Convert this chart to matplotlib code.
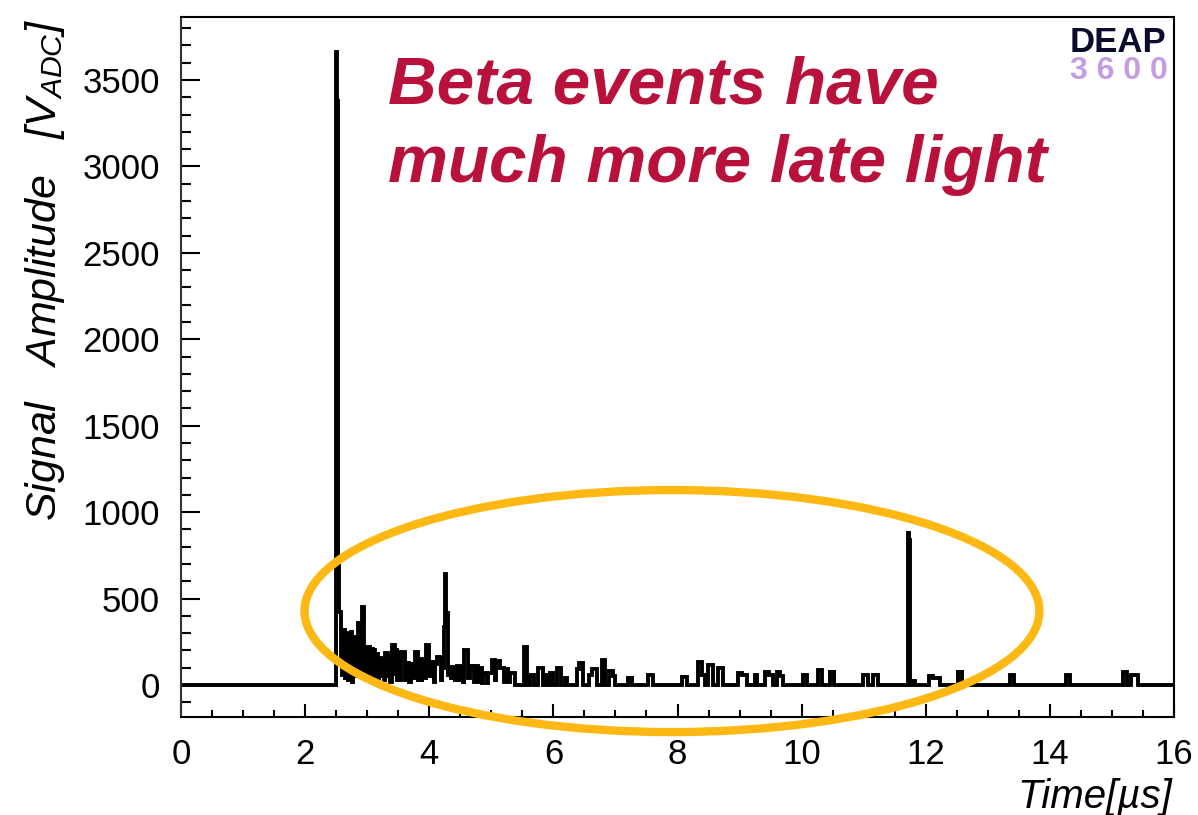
import numpy as np
import matplotlib
matplotlib.use("Agg")
import matplotlib.pyplot as plt
from matplotlib.patches import Ellipse
from matplotlib.ticker import MultipleLocator

plt.rcParams['font.family'] = ['Liberation Sans', 'DejaVu Sans']
plt.rcParams['mathtext.fontset'] = 'custom'
plt.rcParams['mathtext.rm'] = 'Liberation Sans'
plt.rcParams['mathtext.it'] = 'Liberation Sans:italic'

# prompt peak and early tail: contiguous bins (edges in us, amplitude in ADC)
early_edges = [2.50, 2.52, 2.535, 2.55, 2.57, 2.60, 2.615, 2.645, 2.66, 2.69, 2.70,
               2.72, 2.735, 2.76, 2.775, 2.80, 2.815, 2.845, 2.855, 2.875, 2.91,
               2.945, 2.965, 2.99, 3.02, 3.05, 3.06, 3.09, 3.10, 3.13, 3.15,
               3.18, 3.19, 3.23, 3.24, 3.27, 3.29, 3.33, 3.34, 3.37, 3.40,
               3.44, 3.45, 3.48, 3.50, 3.53, 3.54, 3.57, 3.61, 3.63, 3.68, 3.70,
               3.74, 3.77, 3.82, 3.84, 3.88, 3.89, 3.92, 3.94, 3.995, 4.02, 4.07, 4.09,
               4.12, 4.19, 4.20, 4.235, 4.255, 4.275, 4.295, 4.35, 4.37, 4.415, 4.44, 4.49,
               4.51, 4.55, 4.565, 4.63, 4.66, 4.72, 4.74, 4.79, 4.81, 4.845,
               4.87, 4.93, 4.95, 5.006, 5.06, 5.08, 5.14, 5.20, 5.22, 5.275,
               5.30, 5.38]
early_amp = [3660, 3380, 700, 420, 150, 60, 320, 40, 300, 30, 250,
             60, 305, 20, 280, 50, 260, 40, 360, 60, 450,
             80, 214, 30, 220, 50, 210, 30, 200, 40, 180,
             20, 156, 50, 150, 30, 185, 40, 170, 20, 231,
             50, 200, 30, 190, 30, 170, 190, 30, 127, 20, 120,
             40, 190, 30, 150, 20, 140, 40, 230, 50, 133, 20, 120,
             162, 30, 100, 336, 640, 415, 60, 40, 104, 30, 110, 30,
             100, 20, 202, 40, 110, 20, 110, 20, 100, 10,
             70, 10, 70, 145, 30, 140, 98, 20, 90, 20,
             70]

# late isolated pulses
late_start = [5.52, 5.62, 5.75, 5.86, 5.95, 6.05, 6.18, 6.38,
              6.42, 6.58, 6.62, 6.78, 6.90, 6.96, 7.20, 7.52, 8.07, 8.33,
              8.39, 8.49, 8.65, 8.97, 9.04, 9.25, 9.41, 9.47, 9.60, 9.65,
              10.02, 10.26, 10.45, 10.99, 11.15, 11.715, 11.735, 11.78, 12.05, 12.12,
              12.52, 12.60, 13.36, 14.26, 15.18, 15.30]
late_stop = [5.57, 5.68, 5.83, 5.92, 6.00, 6.12, 6.22, 6.42,
             6.48, 6.62, 6.70, 6.83, 6.96, 7.00, 7.27, 7.60, 8.15, 8.39,
             8.45, 8.57, 8.73, 9.04, 9.12, 9.28, 9.47, 9.54, 9.65, 9.70,
             10.09, 10.33, 10.52, 11.07, 11.23, 11.735, 11.75, 11.82, 12.12, 12.23,
             12.58, 12.65, 13.42, 14.32, 15.24, 15.42]
late_amp = [220, 60, 100, 60, 70, 100, 40, 90,
            130, 60, 90, 145, 80, 50, 40, 60, 45, 135,
            60, 115, 100, 70, 60, 60, 75, 60, 75, 50,
            58, 87, 75, 58, 58, 880, 840, 25, 52, 40,
            75, 20, 58, 58, 75, 58]

# assemble one step trace over 0-16 us
edges = [0.0] + list(early_edges)
values = [0.0] + list(early_amp)
for t0, t1, a in zip(late_start, late_stop, late_amp):
    if t0 > edges[-1]:
        edges.append(t0)
        values.append(0.0)
    edges.append(t1)
    values.append(a)
edges.append(16.0)
values.append(0.0)

fig = plt.figure(figsize=(11.98, 8.15), dpi=100)
ax = fig.add_axes([0.1511, 0.1202, 0.8289, 0.8589])

ax.stairs(values, edges, color='black', lw=2.8, baseline=None)

ax.set_xlim(0, 16)
ax.set_ylim(-185, 3864)
ax.xaxis.set_major_locator(MultipleLocator(2))
ax.xaxis.set_minor_locator(MultipleLocator(0.5))
ax.yaxis.set_major_locator(MultipleLocator(500))
ax.yaxis.set_minor_locator(MultipleLocator(100))
ax.tick_params(axis='both', which='both', direction='in', width=1.5,
               labelsize=25, top=False, right=False)
ax.tick_params(axis='y', which='major', length=13.5, pad=15)
ax.tick_params(axis='y', which='minor', length=7)
ax.tick_params(axis='x', which='major', length=9.5, pad=15)
ax.tick_params(axis='x', which='minor', length=5)
for sp in ax.spines.values():
    sp.set_linewidth(1.5)
ax.spines['left'].set_color('#333333')

# highlight of the late light region
ell = Ellipse((7.91, 428), 11.84, 1400, fill=False, edgecolor='#FDB813',
              lw=6, clip_on=False, zorder=5)
ax.add_patch(ell)

fig.text(45 / 1198, 1 - 18 / 815, r'Signal   Amplitude   [$V_{ADC}$]',
         rotation=90, ha='center', va='top', fontsize=31, style='italic')
fig.text(1172 / 1198, 1 - 797 / 815, 'Time[µs]', ha='right', va='center',
         fontsize=29, style='italic')

fig.text(388 / 1198, 1 - 56 / 815, 'Beta events have\nmuch more late light',
         ha='left', va='top', fontsize=48.5, fontweight='bold', style='italic',
         color='#B8123C', linespacing=1.33)

fig.text(1166 / 1198, 1 - 52 / 815, 'DEAP', ha='right', va='baseline',
         fontsize=25, fontweight='bold', color='#0B0B2B')
fig.text(1168 / 1198, 1 - 79 / 815, '3 6 0 0', ha='right', va='baseline',
         fontsize=23, fontweight='bold', color='#C59BE3')

fig.savefig('out.png', dpi=100)
